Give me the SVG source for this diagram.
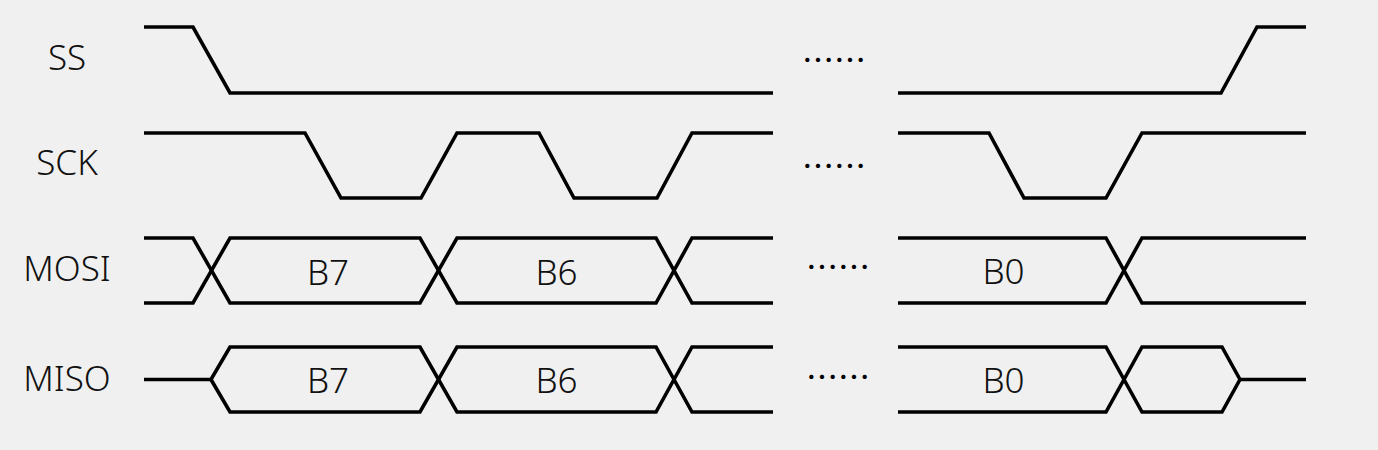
<svg xmlns="http://www.w3.org/2000/svg" width="1378" height="450" viewBox="0 0 1378 450">
<style>
.w{fill:none;stroke:#000;stroke-width:3.6;stroke-linejoin:miter;stroke-linecap:butt}
.lbl{font-family:"Noto Sans","Liberation Sans",sans-serif;font-size:35px;font-weight:300;fill:#111;text-anchor:middle}
.dat{font-family:"Noto Sans","Liberation Sans",sans-serif;font-size:35px;font-weight:300;fill:#111;text-anchor:middle}
.dots{font-family:"Noto Sans CJK SC","Noto Sans",sans-serif;font-size:32px;fill:#000;text-anchor:start}
</style>
<rect width="1378" height="450" fill="#f0f0f0"/>
<g id="ss">
<text class="lbl" x="67" y="70">SS</text>
<path class="w" d="M144,27 H193 L230,93 H773"/>
<path class="w" d="M898,93 H1221 L1257,27 H1306"/>
</g>
<g id="sck">
<text class="lbl" x="67" y="175">SCK</text>
<path class="w" d="M144,133 H305 L341,198 H421 L457,133 H539 L574,198 H657 L692,133 H773"/>
<path class="w" d="M898,133 H989 L1024,198 H1106 L1142,133 H1306"/>
</g>
<g id="mosi">
<text class="lbl" x="67" y="281">MOSI</text>
<path class="w" d="M144,238 H193 L230,303 H420 L457,238 H656 L692,303 H773"/>
<path class="w" d="M144,303 H193 L230,238 H420 L457,303 H656 L692,238 H773"/>
<path class="w" d="M898,238 H1106 L1142,303 H1306"/>
<path class="w" d="M898,303 H1106 L1142,238 H1306"/>
<text class="dat" x="328" y="285">B7</text>
<text class="dat" x="556.5" y="285">B6</text>
<text class="dat" x="1003.5" y="284">B0</text>
</g>
<g id="miso">
<text class="lbl" x="67" y="391">MISO</text>
<path class="w" d="M144,379.5 H211 L230,347 H420 L457,412 H656 L692,347 H773"/>
<path class="w" d="M211,379.5 L230,412 H420 L457,347 H656 L692,412 H773"/>
<path class="w" d="M898,347 H1106 L1142,412 H1222 L1240,379.5 H1306"/>
<path class="w" d="M898,412 H1106 L1142,347 H1222 L1240,379.5"/>
<text class="dat" x="328" y="393">B7</text>
<text class="dat" x="556.5" y="393">B6</text>
<text class="dat" x="1003.5" y="393">B0</text>
</g>
<g id="ellipses">
<text class="dots" x="802" y="72">……</text>
<text class="dots" x="802" y="178">……</text>
<text class="dots" x="806" y="279">……</text>
<text class="dots" x="806" y="389">……</text>
</g>
</svg>
